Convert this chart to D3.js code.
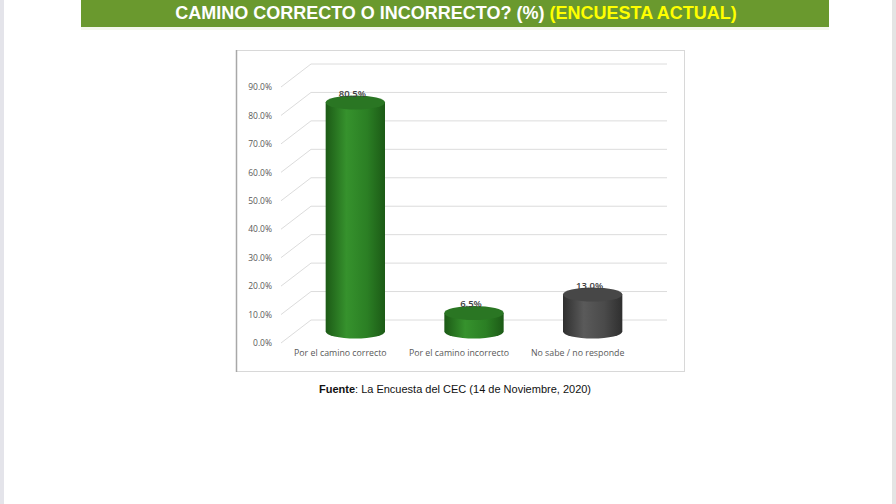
<!DOCTYPE html>
<html>
<head>
<meta charset="utf-8">
<script src="https://cdn.jsdelivr.net/npm/d3@7"></script>
<style>
  body { margin: 0; background: #fff; }
  svg { display: block; }
</style>
</head>
<body>
<div id="chart"></div>
<script>
// data
const categories = ["Por el camino correcto", "Por el camino incorrecto", "No sabe / no responde"];
const values = [80.5, 6.5, 13.0];
const barColors = ["green", "green", "gray"];
const yTicks = [0, 10, 20, 30, 40, 50, 60, 70, 80, 90];

const W = 896, H = 504;
const svg = d3.select("#chart").append("svg")
  .attr("width", W).attr("height", H);

const defs = svg.append("defs");
function cylGrad(id, edge, mid, light) {
  const g = defs.append("linearGradient").attr("id", id)
    .attr("x1", "0%").attr("x2", "100%").attr("y1", "0%").attr("y2", "0%");
  g.append("stop").attr("offset", "0%").attr("stop-color", edge);
  g.append("stop").attr("offset", "35%").attr("stop-color", light);
  g.append("stop").attr("offset", "70%").attr("stop-color", mid);
  g.append("stop").attr("offset", "100%").attr("stop-color", edge);
}
cylGrad("g-green", "#1c5a16", "#2b7f24", "#36922d");
cylGrad("g-gray", "#2f2f2f", "#4a4a4a", "#5a5a5a");
const topCol = { green: "#2a7623", gray: "#474747" };

// page edges
svg.append("rect").attr("x", 0).attr("y", 0).attr("width", 4).attr("height", H).attr("fill", "#e4e4ea");
svg.append("rect").attr("x", 892).attr("y", 0).attr("width", 4).attr("height", H).attr("fill", "#e4e4e4");

// title banner
svg.append("rect").attr("x", 81).attr("y", 0).attr("width", 748).attr("height", 27).attr("fill", "#6a992e");
svg.append("rect").attr("x", 81).attr("y", 27).attr("width", 748).attr("height", 3).attr("fill", "#f4f8ec");
const title = svg.append("text")
  .attr("x", 456).attr("y", 19)
  .attr("text-anchor", "middle")
  .attr("font-family", "Liberation Sans Narrow, Liberation Sans, Arial, sans-serif")
  .attr("font-weight", "bold").attr("font-size", 18);
title.append("tspan").attr("fill", "#ffffff").text("CAMINO CORRECTO O INCORRECTO? (%) ");
title.append("tspan").attr("fill", "#ffff00").text("(ENCUESTA ACTUAL)");

// chart frame
svg.append("rect").attr("x", 236.5).attr("y", 50.5).attr("width", 448).attr("height", 321)
  .attr("fill", "#fff").attr("stroke", "#d8d8d8");
svg.append("line").attr("x1", 236.5).attr("x2", 236.5).attr("y1", 50).attr("y2", 372)
  .attr("stroke", "#a8a8a8").attr("stroke-width", 1.5);

// 3D oblique offsets
const depthX = 30, depthY = -23;
const yFront = d3.scaleLinear().domain([0, 90]).range([343, 87]);
const x = d3.scaleBand().domain(categories).range([281, 637]).paddingInner(0.5).paddingOuter(0.25);
const xMid = d => x(d) + depthX / 2;
const yMid = v => yFront(v) + depthY / 2;

const grid = svg.append("g");
yTicks.forEach(t => {
  const yf = yFront(t), yb = yf + depthY;
  grid.append("line").attr("x1", 281).attr("y1", yf).attr("x2", 281 + depthX).attr("y2", yb)
    .attr("stroke", "#dcdcdc").attr("stroke-width", 1);
  grid.append("line").attr("x1", 281 + depthX).attr("y1", yb).attr("x2", 637 + depthX).attr("y2", yb)
    .attr("stroke", "#dcdcdc").attr("stroke-width", 1);
});

// y axis labels
const yAxis = svg.append("g").attr("transform", "translate(272,0)")
  .call(d3.axisLeft(yFront).tickValues(yTicks).tickSize(0).tickPadding(0)
    .tickFormat(d => d3.format(".1f")(d) + "%"));
yAxis.select(".domain").remove();
yAxis.selectAll("text").attr("font-family", "Open Sans, sans-serif").attr("font-size", 8.5).attr("fill", "#595959");

// x axis labels
const xAxis = svg.append("g").attr("transform", "translate(0,350)")
  .call(d3.axisBottom(x).tickSize(0).tickPadding(0));
xAxis.select(".domain").remove();
xAxis.selectAll("text").attr("font-family", "Open Sans, sans-serif").attr("font-size", 8.8).attr("fill", "#595959");

// cylinders
const ry = 7;
const bars = svg.append("g").selectAll("g").data(categories).join("g");
bars.each(function(c, i) {
  const g = d3.select(this);
  const bw = x.bandwidth();
  const x0 = xMid(c), y1 = yMid(values[i]), y0 = yMid(0);
  const col = barColors[i];
  g.append("path")
    .attr("d", `M${x0},${y1} L${x0},${y0} A${bw / 2},${ry} 0 0 0 ${x0 + bw},${y0} L${x0 + bw},${y1} Z`)
    .attr("fill", `url(#g-${col})`);
  g.append("ellipse").attr("cx", x0 + bw / 2).attr("cy", y1).attr("rx", bw / 2).attr("ry", ry)
    .attr("fill", topCol[col]);
  g.append("text").attr("x", x0 + bw / 2 - 3).attr("y", y1 - ry + 1)
    .attr("text-anchor", "middle")
    .attr("font-family", "Open Sans, sans-serif").attr("font-size", 9.5).attr("font-weight", 600)
    .attr("fill", "#404040")
    .text(d3.format(".1f")(values[i]) + "%");
});

// source
const src = svg.append("text").attr("x", 455).attr("y", 393).attr("text-anchor", "middle")
  .attr("font-family", "Liberation Sans, Arial, sans-serif").attr("font-size", 11).attr("fill", "#111");
src.append("tspan").attr("font-weight", "bold").text("Fuente");
src.append("tspan").text(": La Encuesta del CEC (14 de Noviembre, 2020)");
</script>
</body>
</html>
